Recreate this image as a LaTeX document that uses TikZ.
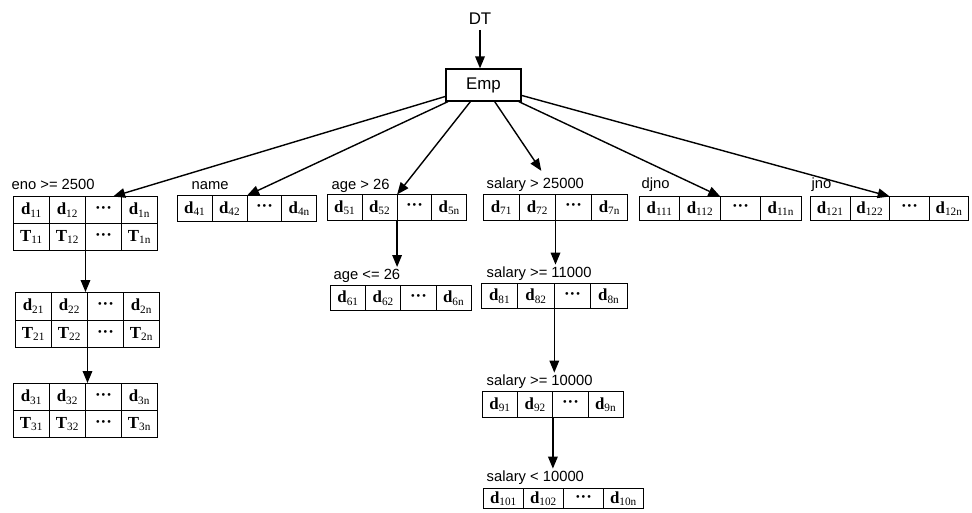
\documentclass[tikz,border=0pt]{standalone}
\usepackage{fontspec}
\setmainfont{Liberation Serif}
\setsansfont{Liberation Sans}
\usetikzlibrary{arrows.meta,matrix,calc}
\newcommand{\dcell}[1]{d\textsubscript{\mdseries#1}}
\newcommand{\tcell}[1]{T\textsubscript{\mdseries#1}}
\newcommand{\gap}{\textbf{···}}

\begin{document}
\begin{tikzpicture}[x=0.25mm,y=-0.25mm,>={Triangle[length=3mm,width=2.4mm]},
  arr/.style={line width=1pt,->},
  lbl/.style={font=\sffamily\fontsize{10.5}{12}\selectfont,inner sep=1pt,anchor=base west},
  cell/.style={draw,line width=0.7pt,minimum height=6.5mm,inner sep=0pt,anchor=center,font=\large\bfseries},
  tbl/.style={matrix of nodes,inner sep=0pt,outer sep=0pt,anchor=north west,
    column sep=-0.7pt,row sep=-0.7pt,nodes={cell,minimum width=#1}}]
  \useasboundingbox (0,0) rectangle (972,512);
  % root
  \node[font=\sffamily\large] (dt) at (480,19) {DT};
  \node[draw,line width=0.9pt,minimum width=18.75mm,minimum height=8mm,font=\sffamily\large] (emp) at (483.5,85) {Emp};
  % eno branch
  \node[lbl] (l1) at (10,189) {eno >= 2500};
  \matrix (t1) [tbl=9mm,nodes={minimum height=6.75mm}] at (13,196) {
    \dcell{11} & \dcell{12} & \gap & \dcell{1n}\\
    \tcell{11} & \tcell{12} & \gap & \tcell{1n}\\};
  \matrix (t2) [tbl=9mm,nodes={minimum height=6.9mm}] at (15,292) {
    \dcell{21} & \dcell{22} & \gap & \dcell{2n}\\
    \tcell{21} & \tcell{22} & \gap & \tcell{2n}\\};
  \matrix (t3) [tbl=9mm,nodes={minimum height=6.75mm}] at (13,383) {
    \dcell{31} & \dcell{32} & \gap & \dcell{3n}\\
    \tcell{31} & \tcell{32} & \gap & \tcell{3n}\\};
  % name
  \node[lbl] (l4) at (190,189) {name};
  \matrix (t4) [tbl=8.7mm] at (177,195) {
    \dcell{41} & \dcell{42} & \gap & \dcell{4n}\\};
  % age
  \node[lbl] (l5) at (330,189) {age > 26};
  \matrix (t5) [tbl=8.7mm] at (327,194) {
    \dcell{51} & \dcell{52} & \gap & \dcell{5n}\\};
  \node[lbl] (l6) at (332,279) {age <= 26};
  \matrix (t6) [tbl=8.8mm,nodes={minimum height=6.25mm}] at (330,285) {
    \dcell{61} & \dcell{62} & \gap & \dcell{6n}\\};
  % salary
  \node[lbl] (l7) at (485,188) {salary > 25000};
  \matrix (t7) [tbl=9mm] at (483,194) {
    \dcell{71} & \dcell{72} & \gap & \dcell{7n}\\};
  \node[lbl] (l8) at (485,277) {salary >= 11000};
  \matrix (t8) [tbl=9.1mm,nodes={minimum height=6.25mm}] at (481,283) {
    \dcell{81} & \dcell{82} & \gap & \dcell{8n}\\};
  \node[lbl] (l9) at (485,385) {salary >= 10000};
  \matrix (t9) [tbl=8.8mm] at (482,391) {
    \dcell{91} & \dcell{92} & \gap & \dcell{9n}\\};
  \node[lbl] (l10) at (485,481) {salary < 10000};
  \matrix (t10) [tbl=10mm,nodes={minimum height=5.1mm}] at (483,488) {
    \dcell{101} & \dcell{102} & \gap & \dcell{10n}\\};
  % djno, jno
  \node[lbl] (l11) at (640,188) {djno};
  \matrix (t11) [tbl=10.1mm,nodes={minimum height=6mm}] at (639,196) {
    \dcell{111} & \dcell{112} & \gap & \dcell{11n}\\};
  \node[lbl] (l12) at (810,188) {jno};
  \matrix (t12) [tbl=9.9mm,nodes={minimum height=6mm}] at (810,196) {
    \dcell{121} & \dcell{122} & \gap & \dcell{12n}\\};
  % connectors
  \draw[arr] (dt) -- (dt |- emp.north);
  \draw[arr] (emp) -- ([xshift=2.4mm]t1-1-3.north);
  \draw[arr] (emp) -- (t4-1-2.north east);
  \draw[arr] (emp) -- (t5-1-2.north east);
  \draw[arr] (emp) -- ([xshift=1.5mm,yshift=1.2mm]l7.north);
  \draw[arr] (emp) -- (t11-1-2.north east);
  \draw[arr] (emp) -- (t12-1-2.north east);
  \draw[arr] (t1-2-2.south east) -- (t1-2-2.south east |- t2.north);
  \draw[arr] (t2-2-2.south east) -- (t2-2-2.south east |- t3.north);
  \draw[arr] (t5-1-2.south east) -- (t5-1-2.south east |- l6.north);
  \draw[arr] (t7-1-2.south east) -- (t7-1-2.south east |- l8.north);
  \draw[arr] (t8-1-2.south east) -- (t8-1-2.south east |- l9.north);
  \draw[arr] (t9-1-2.south east) -- (t9-1-2.south east |- l10.north);
\end{tikzpicture}
\end{document}
